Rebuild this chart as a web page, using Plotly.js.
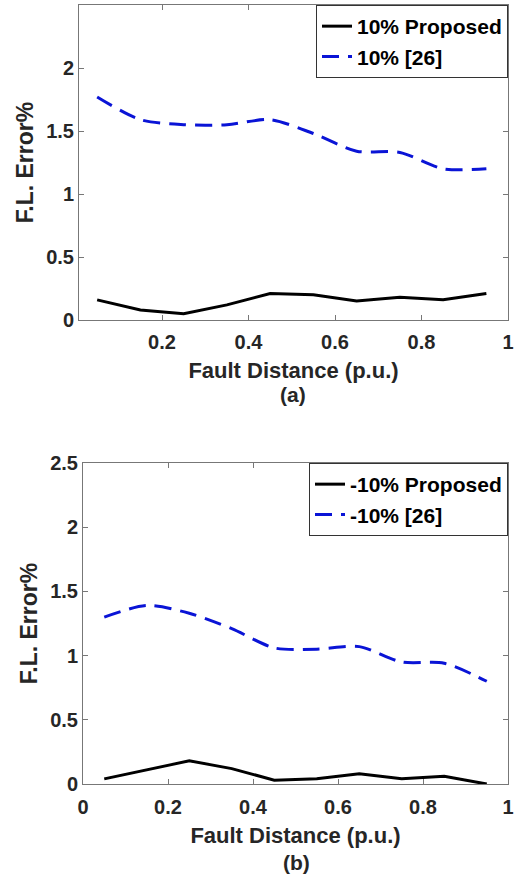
<!DOCTYPE html>
<html>
<head>
<meta charset="utf-8">
<script src="https://cdn.plot.ly/plotly-3.0.1.min.js"></script>
<style>html,body{margin:0;padding:0;background:#fff;}#chart{width:520px;height:875px;}</style>
</head>
<body>
<div id="chart"></div>
<script>
const faultDistance = [0.05, 0.15, 0.25, 0.35, 0.45, 0.55, 0.65, 0.75, 0.85, 0.95];
const proposedPlus10 = [0.16, 0.08, 0.05, 0.12, 0.21, 0.20, 0.15, 0.18, 0.16, 0.21];
const ref26Plus10 = [1.77, 1.59, 1.55, 1.55, 1.59, 1.48, 1.34, 1.33, 1.20, 1.20];
const proposedMinus10 = [0.04, 0.11, 0.18, 0.12, 0.03, 0.04, 0.08, 0.04, 0.06, 0.00];
const ref26Minus10 = [1.30, 1.39, 1.33, 1.21, 1.06, 1.05, 1.07, 0.95, 0.94, 0.80];
const namesTop = ["10% Proposed", "10% [26]"];
const namesBottom = ["-10% Proposed", "-10% [26]"];
const xTicks = [0, 0.2, 0.4, 0.6, 0.8, 1];
const yTicksTop = [0, 0.5, 1, 1.5, 2];
const yTicksBottom = [0, 0.5, 1, 1.5, 2, 2.5];
const xTitle = "Fault Distance (p.u.)";
const yTitle = "F.L. Error%";
const panelLabels = ["(a)", "(b)"];

const FONT = "Liberation Sans, Arial, sans-serif";
const TXT = "#262626";
const BLUE = "#0a14d6";

const traces = [
  {x: faultDistance, y: proposedPlus10, name: namesTop[0], mode: "lines", xaxis: "x", yaxis: "y",
   line: {color: "#000", width: 3}, legend: "legend"},
  {x: faultDistance, y: ref26Plus10, name: namesTop[1], mode: "lines", xaxis: "x", yaxis: "y",
   line: {color: BLUE, width: 3, dash: "17px,9px", shape: "spline", smoothing: 0.8}, legend: "legend"},
  {x: faultDistance, y: proposedMinus10, name: namesBottom[0], mode: "lines", xaxis: "x2", yaxis: "y2",
   line: {color: "#000", width: 3}, legend: "legend2"},
  {x: faultDistance, y: ref26Minus10, name: namesBottom[1], mode: "lines", xaxis: "x2", yaxis: "y2",
   line: {color: BLUE, width: 3, dash: "17px,9px", shape: "spline", smoothing: 0.8}, legend: "legend2"}
];

function xAxis(domain, anchor, range, showZero, labelStandoff, titleStandoff) {
  const tv = showZero ? xTicks : xTicks.slice(1);
  return {
    domain: domain, anchor: anchor, range: range,
    tickvals: tv, ticktext: tv.map(v => String(v)),
    ticks: "inside", ticklen: 5, tickcolor: "#777", tickwidth: 1,
    showline: true, linecolor: "#777", linewidth: 1, mirror: "ticks",
    showgrid: false, zeroline: false, ticklabelstandoff: labelStandoff,
    tickfont: {family: FONT, size: 20, color: TXT, weight: "bold"},
    title: {text: xTitle, font: {family: FONT, size: 22, color: TXT, weight: "bold"}, standoff: titleStandoff}
  };
}
function yAxis(domain, anchor, ticks) {
  return {
    domain: domain, anchor: anchor, range: [0, 2.5],
    tickvals: ticks, ticktext: ticks.map(v => String(v)),
    ticks: "inside", ticklen: 5, tickcolor: "#777", tickwidth: 1,
    showline: true, linecolor: "#777", linewidth: 1, mirror: "ticks",
    showgrid: false, zeroline: false,
    tickfont: {family: FONT, size: 20, color: TXT, weight: "bold"},
    title: {text: yTitle, font: {family: FONT, size: 23, color: TXT, weight: "bold"}, standoff: 6}
  };
}

const legendStyle = {
  bgcolor: "#fff", bordercolor: "#333", borderwidth: 1,
  font: {family: FONT, size: 21, color: "#000", weight: "bold"},
  xanchor: "right", yanchor: "top", itemwidth: 30, tracegroupgap: 0
};

const layout = {
  width: 520, height: 875,
  margin: {l: 0, r: 0, t: 0, b: 0},
  paper_bgcolor: "#fff", plot_bgcolor: "#fff",
  showlegend: true,
  xaxis: xAxis([79/520, 508/520], "y", [0.008, 1], false, 4, 10),
  yaxis: yAxis([(875-320)/875, (875-5)/875], "x", yTicksTop),
  xaxis2: xAxis([83/520, 508/520], "y2", [0, 1], true, 5, 10),
  yaxis2: yAxis([(875-784)/875, (875-463)/875], "x2", yTicksBottom),
  legend: Object.assign({}, legendStyle, {x: 508/520, y: (875-5)/875}),
  legend2: Object.assign({}, legendStyle, {x: 508/520, y: (875-463)/875}),
  annotations: [
    {text: panelLabels[0], xref: "paper", yref: "paper", x: 293/520, y: (875-394)/875,
     xanchor: "center", yanchor: "middle", showarrow: false,
     font: {family: FONT, size: 21, color: TXT, weight: "bold"}},
    {text: panelLabels[1], xref: "paper", yref: "paper", x: 296/520, y: (875-862)/875,
     xanchor: "center", yanchor: "middle", showarrow: false,
     font: {family: FONT, size: 21, color: TXT, weight: "bold"}}
  ]
};

Plotly.newPlot("chart", traces, layout, {staticPlot: true, displayModeBar: false});
</script>
</body>
</html>
